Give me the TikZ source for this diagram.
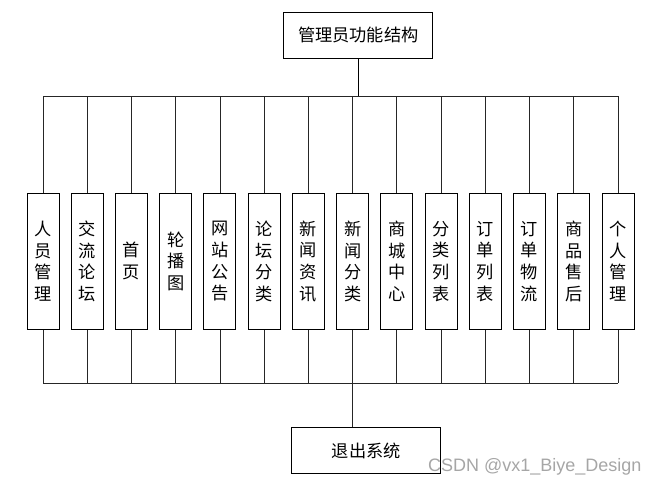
\documentclass[tikz,border=0pt]{standalone}
\usepackage{fontspec}
\newfontfamily\cjk{Noto Sans CJK SC}
\newfontfamily\wmfont{Liberation Sans}
\begin{document}
\begin{tikzpicture}[x=1pt,y=-1pt,
  bigbox/.style={draw=black,line width=0.9pt,fill=white,minimum width=149pt,minimum height=46pt,inner sep=0pt,font=\cjk\fontsize{17.2}{20}\selectfont},
  itembox/.style={draw=black,line width=0.9pt,fill=white,minimum width=32pt,minimum height=136pt,inner sep=0pt,align=center,font=\cjk\fontsize{17.2}{21.7}\selectfont},
  wire/.style={draw=black!85,line width=0.8pt},
  trunk/.style={draw=black,line width=1.6pt}]
\useasboundingbox (0,0) rectangle (658,486);
\node[bigbox] (top) at (358.3,35) {管理员功能结构};
\node[bigbox] (exit) at (366.2,450.5) {退出系统};
\foreach \t [count=\i from 0] in {人\\员\\管\\理,交\\流\\论\\坛,首\\页,轮\\播\\图,网\\站\\公\\告,论\\坛\\分\\类,新\\闻\\资\\讯,新\\闻\\分\\类,商\\城\\中\\心,分\\类\\列\\表,订\\单\\列\\表,订\\单\\物\\流,商\\品\\售\\后,个\\人\\管\\理}{
  \node[itembox] (b\i) at ({43+\i*44.23},261.3) {\t};
}
\coordinate (tb) at (358.3,96);
\coordinate (bb) at (352.6,383.3);
% top bus
\draw[wire] (b0.north |- tb) -- (b13.north |- tb);
\foreach \i in {0,...,13}{
  \draw[wire] (b\i.north) -- (b\i.north |- tb);
  \draw[wire] (b\i.south) -- (b\i.south |- bb);
}
\draw[trunk] (top.south) -- (top.south |- tb);
% bottom bus
\draw[wire] (b0.south |- bb) -- (b13.south |- bb);
\draw[wire,line width=1.2pt] (b7.south |- bb) -- (b7.south |- exit.north);
\node[font=\wmfont\fontsize{18}{18}\selectfont,text=black!35,inner sep=0pt] (wm) at (534.8,466.5) {CSDN @vx1\_Biye\_Design};
\end{tikzpicture}
\end{document}
